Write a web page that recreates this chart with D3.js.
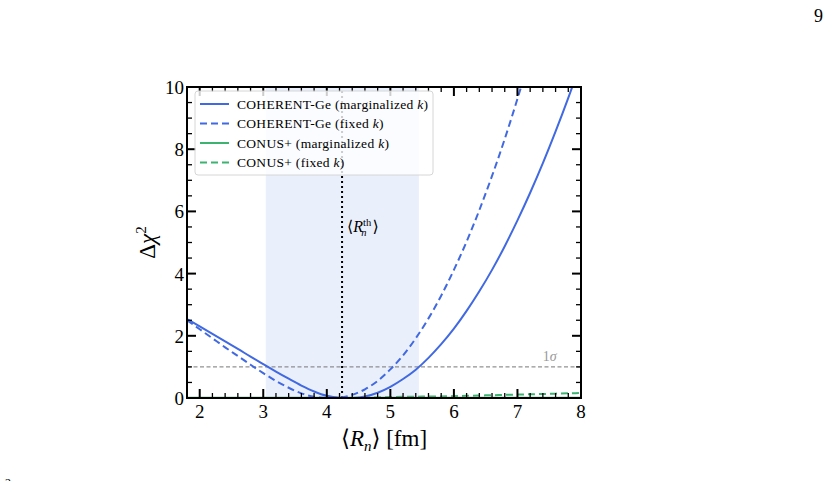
<!DOCTYPE html>
<html>
<head>
<meta charset="utf-8"/>
<script src="https://cdn.jsdelivr.net/npm/d3@7"></script>
<style>
body { margin: 0; background: #fff; }
svg text { font-family: "Liberation Serif", "DejaVu Serif", serif; fill: #000; }
</style>
</head>
<body>
<svg id="chart" width="833" height="481"></svg>
<script>
// Δχ² profiles vs neutron radius
var rn = [1.8, 2.0, 2.2, 2.4, 2.6, 2.8, 3.0, 3.2, 3.4, 3.6, 3.8, 4.0, 4.2, 4.4, 4.6, 4.8, 5.0, 5.2, 5.4, 5.6, 5.8, 6.0, 6.2, 6.4, 6.6, 6.8, 7.0, 7.2, 7.4, 7.6, 7.8, 8.0];
var cohMarg = [2.54, 2.30, 2.06, 1.82, 1.58, 1.33, 1.09, 0.85, 0.62, 0.40, 0.21, 0.07, 0.01, 0.00, 0.05, 0.17, 0.36, 0.61, 0.91, 1.29, 1.73, 2.23, 2.80, 3.43, 4.12, 4.88, 5.71, 6.60, 7.55, 8.57, 9.65, 10.8];
var cohFixed = [2.50, 2.21, 1.92, 1.63, 1.35, 1.07, 0.80, 0.55, 0.33, 0.15, 0.04, 0.00, 0.01, 0.10, 0.28, 0.55, 0.92, 1.37, 1.92, 2.56, 3.29, 4.12, 5.03, 6.04, 7.14, 8.33, 9.62, 11.0, 12.5, 14.0, 15.6, 17.3];
var conusMarg = [0.01, 0.01, 0.01, 0.01, 0.01, 0.01, 0.01, 0.01, 0.01, 0.01, 0.01, 0.01, 0.01, 0.01, 0.01, 0.01, 0.01, 0.01, 0.01, 0.01, 0.01, 0.01, 0.01, 0.01, 0.01, 0.01, 0.01, 0.01, 0.01, 0.01, 0.01, 0.01];
var conusFixed = [0.0, 0.0, 0.0, 0.0, 0.0, 0.0, 0.0, 0.0, 0.0, 0.0, 0.0, 0.0, 0.0, 0.0, 0.01, 0.02, 0.03, 0.04, 0.04, 0.05, 0.05, 0.06, 0.07, 0.08, 0.09, 0.10, 0.11, 0.12, 0.13, 0.14, 0.15, 0.16];
var bandRange = [3.04, 5.45];
var rnTheory = 4.24;
var xTicks = [2, 3, 4, 5, 6, 7, 8];
var yTicks = [0, 2, 4, 6, 8, 10];

var series = [
  { label: "COHERENT-Ge (marginalized ", values: cohMarg, color: "#4169e1", dash: null },
  { label: "COHERENT-Ge (fixed ", values: cohFixed, color: "#4169e1", dash: "7,4" },
  { label: "CONUS+ (marginalized ", values: conusMarg, color: "#3cb371", dash: null },
  { label: "CONUS+ (fixed ", values: conusFixed, color: "#3cb371", dash: "7,4" }
];

var pL = 187, pR = 581, pT = 87, pB = 398;
var svg = d3.select("#chart");

var x = d3.scaleLinear().domain([1.8, 8]).range([pL, pR]);
var y = d3.scaleLinear().domain([0, 10]).range([pB, pT]);

svg.append("clipPath").attr("id", "clip")
  .append("rect").attr("x", pL).attr("y", pT).attr("width", pR - pL).attr("height", pB - pT);

// shaded band
svg.append("rect")
  .attr("x", x(bandRange[0])).attr("y", pT)
  .attr("width", x(bandRange[1]) - x(bandRange[0])).attr("height", pB - pT)
  .attr("fill", "#4169e1").attr("fill-opacity", 0.11);

// 1 sigma line
svg.append("line")
  .attr("x1", pL).attr("x2", pR).attr("y1", y(1)).attr("y2", y(1))
  .attr("stroke", "#777").attr("stroke-width", 1).attr("stroke-dasharray", "4,2.5");
var sig = svg.append("text").attr("x", x(7.4)).attr("y", y(1.2))
  .attr("font-size", 14).style("fill", "#999");
sig.append("tspan").text("1");
sig.append("tspan").attr("font-style", "italic").text("σ");

// theory line
svg.append("line")
  .attr("x1", x(rnTheory)).attr("x2", x(rnTheory)).attr("y1", y(0)).attr("y2", y(10))
  .attr("stroke", "#000").attr("stroke-width", 2).attr("stroke-dasharray", "2,3");
var th = svg.append("text").attr("x", x(rnTheory) + 5).attr("y", y(5.35)).attr("font-size", 16);
th.append("tspan").text("⟨");
th.append("tspan").attr("font-style", "italic").text("R");
th.append("tspan").attr("font-size", 10.5).attr("dy", -6).text("th");
th.append("tspan").attr("font-size", 10.5).attr("font-style", "italic").attr("dx", -10).attr("dy", 10).text("n");
th.append("tspan").attr("dx", 6).attr("dy", -4).text("⟩");

// curves
var line = d3.line()
  .x(function(d, i) { return x(rn[i]); })
  .y(function(d) { return y(d); })
  .curve(d3.curveMonotoneX);

var g = svg.append("g").attr("clip-path", "url(#clip)");
series.slice().reverse().forEach(function(s) {
  g.append("path")
    .attr("d", line(s.values))
    .attr("fill", "none")
    .attr("stroke", s.color)
    .attr("stroke-width", 2)
    .attr("stroke-dasharray", s.dash);
});

// ticks (inward, all four sides)
var minorX = d3.range(1.8, 8.001, 0.2).map(function(v) { return +v.toFixed(1); });
var minorY = d3.range(0, 10.001, 0.5);
var tk = svg.append("g").attr("stroke", "#000");
minorX.forEach(function(v) {
  var major = xTicks.indexOf(v) >= 0;
  var len = major ? 9 : 5;
  tk.append("line").attr("x1", x(v)).attr("x2", x(v)).attr("y1", pB).attr("y2", pB - len).attr("stroke-width", major ? 2 : 1.3);
  tk.append("line").attr("x1", x(v)).attr("x2", x(v)).attr("y1", pT).attr("y2", pT + len).attr("stroke-width", major ? 2 : 1.3);
});
minorY.forEach(function(v) {
  var major = yTicks.indexOf(v) >= 0;
  var len = major ? 9 : 5;
  tk.append("line").attr("y1", y(v)).attr("y2", y(v)).attr("x1", pL).attr("x2", pL + len).attr("stroke-width", major ? 2 : 1.3);
  tk.append("line").attr("y1", y(v)).attr("y2", y(v)).attr("x1", pR).attr("x2", pR - len).attr("stroke-width", major ? 2 : 1.3);
});

// frame
svg.append("rect").attr("x", pL).attr("y", pT).attr("width", pR - pL).attr("height", pB - pT)
  .attr("fill", "none").attr("stroke", "#000").attr("stroke-width", 2);

// tick labels
svg.selectAll(".xt").data(xTicks).enter().append("text")
  .attr("x", function(d) { return x(d); }).attr("y", pB + 20)
  .attr("text-anchor", "middle").attr("font-size", 19).text(function(d) { return d; });
svg.selectAll(".yt").data(yTicks).enter().append("text")
  .attr("x", pL - 3).attr("y", function(d) { return y(d) + 7; })
  .attr("text-anchor", "end").attr("font-size", 19).text(function(d) { return d; });

// axis titles
var xl = svg.append("text").attr("x", (pL + pR) / 2).attr("y", 446)
  .attr("text-anchor", "middle").attr("font-size", 23);
xl.append("tspan").text("⟨");
xl.append("tspan").attr("font-style", "italic").text("R");
xl.append("tspan").attr("font-style", "italic").attr("font-size", 15).attr("dy", 5).text("n");
xl.append("tspan").attr("dy", -5).text("⟩ [fm]");

var yl = svg.append("text").attr("transform", "translate(155," + y(5) + ") rotate(-90)")
  .attr("text-anchor", "middle").attr("font-size", 23);
yl.append("tspan").text("Δ");
yl.append("tspan").attr("font-style", "italic").text("χ");
yl.append("tspan").attr("font-size", 15).attr("dy", -9).text("2");

// legend
var lg = svg.append("g");
lg.append("rect").attr("x", 195).attr("y", 91).attr("width", 238).attr("height", 84)
  .attr("rx", 3).attr("fill", "#fff").attr("fill-opacity", 0.8).attr("stroke", "#d6d6d6");
series.forEach(function(s, i) {
  var yy = 104 + i * 19.5;
  lg.append("line").attr("x1", 200).attr("x2", 229).attr("y1", yy).attr("y2", yy)
    .attr("stroke", s.color).attr("stroke-width", 2).attr("stroke-dasharray", s.dash);
  var t = lg.append("text").attr("x", 237).attr("y", yy + 4.5).attr("font-size", 13.5)
    .attr("letter-spacing", 0.3);
  t.append("tspan").text(s.label);
  t.append("tspan").attr("font-style", "italic").text("k");
  t.append("tspan").text(")");
});

// page number and cut-off fragment
svg.append("text").attr("x", 823).attr("y", 22).attr("text-anchor", "end").attr("font-size", 18).text("9");
svg.append("text").attr("x", 5).attr("y", 487).attr("font-size", 12).text("2");
</script>
</body>
</html>
